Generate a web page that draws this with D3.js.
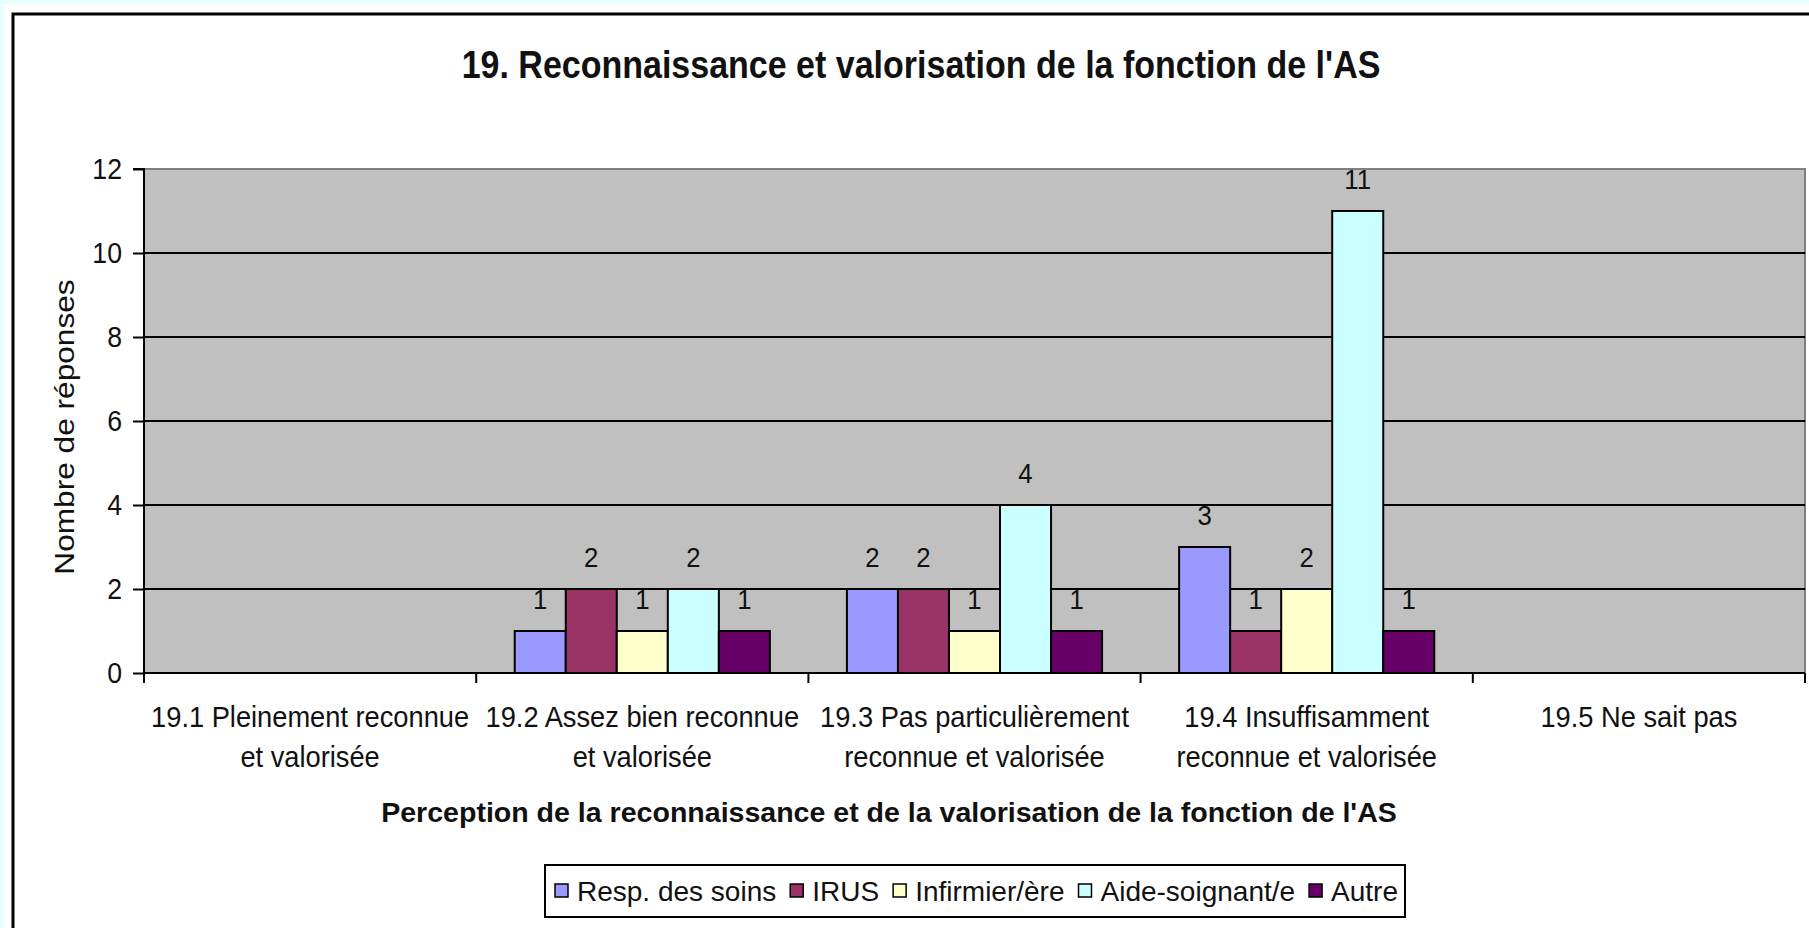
<!DOCTYPE html>
<html>
<head>
<meta charset="utf-8">
<script src="https://cdn.jsdelivr.net/npm/d3@7"></script>
<style>
  html, body { margin: 0; padding: 0; background: #e6ffff; overflow: hidden; }
  svg { display: block; font-family: "Liberation Sans", Arial, sans-serif; }
</style>
</head>
<body>
<div id="chart"></div>
<script>
// Data
const categories = ['19.1', '19.2', '19.3', '19.4', '19.5'];
const categoryLabels = [
  ['19.1 Pleinement reconnue', 'et valorisée'],
  ['19.2 Assez bien reconnue', 'et valorisée'],
  ['19.3 Pas particulièrement', 'reconnue et valorisée'],
  ['19.4 Insuffisamment', 'reconnue et valorisée'],
  ['19.5 Ne sait pas']
];
const seriesNames = ['Resp. des soins', 'IRUS', 'Infirmier/ère', 'Aide-soignant/e', 'Autre'];
const seriesColors = ['#9999ff', '#993366', '#ffffcc', '#ccffff', '#660066'];
const respSoins    = [0, 1, 2, 3, 0];
const irus         = [0, 2, 2, 1, 0];
const infirmier    = [0, 1, 1, 2, 0];
const aideSoignant = [0, 2, 4, 11, 0];
const autre        = [0, 1, 1, 1, 0];
const yTicks = [0, 2, 4, 6, 8, 10, 12];

const titleText = "19. Reconnaissance et valorisation de la fonction de l'AS";
const xTitle = "Perception de la reconnaissance et de la valorisation de la fonction de l'AS";
const yTitle = 'Nombre de réponses';

const values = [respSoins, irus, infirmier, aideSoignant, autre];

const width = 1809, height = 928;
const plot = { left: 144, right: 1805, top: 169, bottom: 673 };

const svg = d3.select('#chart').append('svg')
  .attr('width', width)
  .attr('height', height);

// page + chart frame
svg.append('rect').attr('x', 4).attr('y', 4).attr('width', width).attr('height', height).attr('fill', '#fff');
svg.append('rect')
  .attr('x', 13).attr('y', 14).attr('width', width).attr('height', height)
  .attr('fill', 'none').attr('stroke', '#000').attr('stroke-width', 3);

// text helper: horizontally squeezed/stretched text like the original rendering
function label(parent, text, x, y, o = {}) {
  const sx = o.sx || 1;
  const rot = o.rotate ? ` rotate(${o.rotate})` : '';
  return parent.append('text')
    .attr('transform', `translate(${x},${y})${rot} scale(${sx},1)`)
    .attr('text-anchor', o.anchor || 'middle')
    .attr('font-size', (o.size || 29) + 'px')
    .attr('font-weight', o.bold ? 'bold' : 'normal')
    .attr('fill', o.fill || '#000')
    .text(text);
}

// Scales
const x0 = d3.scaleBand().domain(categories).range([plot.left, plot.right]).padding(0);
const x1 = d3.scaleBand().domain(seriesNames).range([0, x0.bandwidth()]).paddingInner(0).paddingOuter(0.755);
const y = d3.scaleLinear().domain([0, 12]).range([plot.bottom, plot.top]);

// Plot area
svg.append('rect')
  .attr('x', plot.left).attr('y', plot.top)
  .attr('width', plot.right - plot.left).attr('height', plot.bottom - plot.top)
  .attr('fill', '#c0c0c0').attr('stroke', '#808080').attr('stroke-width', 2);

// gridlines
svg.append('g').selectAll('line')
  .data(yTicks.filter(t => t > 0 && t < 12))
  .enter().append('line')
  .attr('x1', plot.left).attr('x2', plot.right)
  .attr('y1', d => y(d)).attr('y2', d => y(d))
  .attr('stroke', '#000').attr('stroke-width', 2);

// bars
const groups = svg.append('g').selectAll('g')
  .data(categories)
  .enter().append('g')
  .attr('transform', d => `translate(${x0(d)},0)`);

groups.each(function(cat, ci) {
  const g = d3.select(this);
  const data = seriesNames.map((s, si) => ({ s, si, v: values[si][ci] })).filter(d => d.v > 0);
  g.selectAll('rect').data(data).enter().append('rect')
    .attr('x', d => x1(d.s))
    .attr('y', d => y(d.v))
    .attr('width', x1.bandwidth())
    .attr('height', d => y(0) - y(d.v))
    .attr('fill', d => seriesColors[d.si])
    .attr('stroke', '#000').attr('stroke-width', 2);
  data.forEach(d => {
    label(g, d.v, x1(d.s) + x1.bandwidth() / 2, y(d.v) - 22, { size: 28, sx: 0.92, fill: '#111' });
  });
});

// Y axis
const yAxis = d3.axisLeft(y).tickValues(yTicks).tickSize(11).tickPadding(10);
const yg = svg.append('g').attr('transform', `translate(${plot.left},0)`).call(yAxis);
yg.select('.domain').attr('stroke', '#000').attr('stroke-width', 2).attr('d', `M-11,${plot.top}H0V${plot.bottom}`);
yg.selectAll('.tick line').attr('stroke', '#000').attr('stroke-width', 2);
yg.selectAll('.tick text').remove();
yTicks.forEach(t => label(yg, t, -22, y(t) + 10, { anchor: 'end', size: 29, sx: 0.92, fill: '#111' }));

// X axis (ticks on category boundaries)
const xg = svg.append('g');
xg.append('line')
  .attr('x1', plot.left).attr('x2', plot.right)
  .attr('y1', plot.bottom).attr('y2', plot.bottom)
  .attr('stroke', '#000').attr('stroke-width', 2);
const bounds = categories.map(c => x0(c)).concat([x0(categories[categories.length - 1]) + x0.bandwidth()]);
xg.selectAll('.xt').data(bounds).enter().append('line')
  .attr('x1', d => d).attr('x2', d => d)
  .attr('y1', plot.bottom).attr('y2', plot.bottom + 10)
  .attr('stroke', '#000').attr('stroke-width', 2);

categories.forEach((c, i) => {
  const cx = x0(c) + x0.bandwidth() / 2;
  categoryLabels[i].forEach((line, li) => {
    label(xg, line, cx, 727 + li * 40, { size: 29, sx: 0.94, fill: '#111' });
  });
});

// Titles
label(svg, titleText, 921, 78, { size: 38, bold: true, sx: 0.895, fill: '#111' });
label(svg, xTitle, 889, 822, { size: 28, bold: true, sx: 1.02, fill: '#111' });
label(svg, yTitle, 74, 427, { size: 28, sx: 1.13, rotate: -90, fill: '#111' });

// Legend
const legend = svg.append('g');
legend.append('rect')
  .attr('x', 545).attr('y', 865).attr('width', 860).attr('height', 52)
  .attr('fill', '#fff').attr('stroke', '#000').attr('stroke-width', 2);
let lx = 555;
const legendSx = 1.0;
seriesNames.forEach((s, i) => {
  legend.append('rect')
    .attr('x', lx).attr('y', 884).attr('width', 13).attr('height', 13)
    .attr('fill', seriesColors[i]).attr('stroke', '#000').attr('stroke-width', 1.5);
  const t = label(legend, s, lx + 22, 901, { anchor: 'start', size: 28, sx: legendSx, fill: '#111' });
  lx += 22 + t.node().getComputedTextLength() * legendSx + 14;
});
</script>
</body>
</html>
